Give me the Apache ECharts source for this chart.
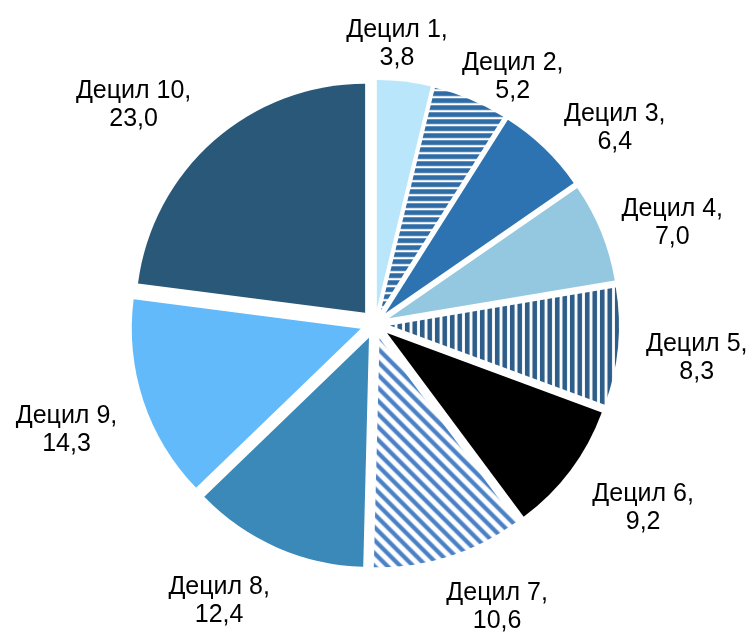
<!DOCTYPE html>
<html>
<head>
<meta charset="utf-8">
<script src="https://cdn.jsdelivr.net/npm/echarts@6/dist/echarts.min.js"></script>
<style>
  html, body { margin: 0; padding: 0; background: #fff; }
  #chart { width: 751px; height: 637px; }
</style>
</head>
<body>
<div id="chart"></div>
<script>
const deciles = ['Децил 1', 'Децил 2', 'Децил 3', 'Децил 4', 'Децил 5',
  'Децил 6', 'Децил 7', 'Децил 8', 'Децил 9', 'Децил 10'];
const shares = [3.8, 5.2, 6.4, 7.0, 8.3, 9.2, 10.6, 12.4, 14.3, 23.0];

// small repeating canvases for the hatched slices
function stripes(kind, color) {
  const c = document.createElement('canvas');
  let ctx;
  if (kind === 'h') {
    c.width = 8; c.height = 7;
    ctx = c.getContext('2d');
    ctx.fillStyle = '#fff'; ctx.fillRect(0, 0, 8, 7);
    ctx.fillStyle = color; ctx.fillRect(0, 0, 8, 4.8);
  } else if (kind === 'v') {
    c.width = 15; c.height = 8;
    ctx = c.getContext('2d');
    ctx.fillStyle = '#fff'; ctx.fillRect(0, 0, 15, 8);
    ctx.fillStyle = color;
    ctx.fillRect(0, 0, 4.6, 8);
    ctx.fillRect(7.5, 0, 4.6, 8);
  } else {
    const s = 13;
    c.width = s; c.height = s;
    ctx = c.getContext('2d');
    ctx.fillStyle = '#fff'; ctx.fillRect(0, 0, s, s);
    ctx.strokeStyle = color; ctx.lineWidth = 4.2;
    [-s, 0, s].forEach(function (x0) {
      ctx.beginPath();
      ctx.moveTo(x0 - 2, -2);
      ctx.lineTo(x0 + s + 2, s + 2);
      ctx.stroke();
    });
  }
  return { image: c, repeat: 'repeat' };
}

const fills = [
  '#b9e6fa',
  stripes('h', '#2f6ca6'),
  '#2d73b2',
  '#93c8e0',
  stripes('v', '#2d5d88'),
  '#000000',
  stripes('d', '#4a80c5'),
  '#3a89b8',
  '#63bafb',
  '#2a5878'
];

const cx = 375, cy = 324, R = 229, explode = 15;
const fontSize = 25, lineH = 28, textDrop = 4;
const fontFamily = '"Liberation Sans", Arial, sans-serif';
// label placement, like Excel's outside-end labels: gap to the pie edge (px) and angle nudge (deg)
const labelGap = [9, -7, 11, 14, 26, 21, 15, 21, 24, 23];
const labelTurn = [-2.4, 5.8, 6.4, 2.7, 0, -3, -6, 6, 0, -6];

const total = shares.reduce(function (a, b) { return a + b; }, 0);
function fmt(v) { return v.toFixed(1).replace('.', ','); }
function labelText(i) { return deciles[i] + ',\n' + fmt(shares[i]); }

const measure = document.createElement('canvas').getContext('2d');
measure.font = fontSize + 'px ' + fontFamily;

// outside-end data labels, placed from each slice's mid angle
const labels = shares.map(function (v, i) {
  let cum = 0;
  for (let k = 0; k < i; k++) cum += shares[k];
  const a = (cum + v / 2) / total * Math.PI * 2 + labelTurn[i] * Math.PI / 180;
  const ux = Math.sin(a), uy = -Math.cos(a);
  const w = Math.max.apply(null, labelText(i).split('\n').map(function (s) {
    return measure.measureText(s).width;
  }));
  const h = 2 * lineH;
  const d = R + explode + labelGap[i] + Math.abs(ux) * w / 2 + Math.abs(uy) * h / 2;
  return {
    type: 'text',
    x: cx + ux * d,
    y: cy + uy * d + textDrop,
    silent: true,
    style: {
      text: labelText(i),
      align: 'center',
      verticalAlign: 'middle',
      fontSize: fontSize,
      fontFamily: fontFamily,
      lineHeight: lineH,
      fill: '#000'
    }
  };
});

const chart = echarts.init(document.getElementById('chart'), null, { renderer: 'canvas' });

chart.setOption({
  animation: false,
  graphic: labels,
  series: [{
    type: 'pie',
    center: [cx, cy],
    radius: R,
    startAngle: 90,
    clockwise: true,
    selectedMode: 'multiple',
    selectedOffset: explode,
    emphasis: { disabled: true },
    label: { show: false },
    labelLine: { show: false },
    data: deciles.map(function (name, i) {
      return {
        name: name,
        value: shares[i],
        selected: true,
        itemStyle: { color: fills[i], borderWidth: 0 }
      };
    })
  }]
});
</script>
</body>
</html>
